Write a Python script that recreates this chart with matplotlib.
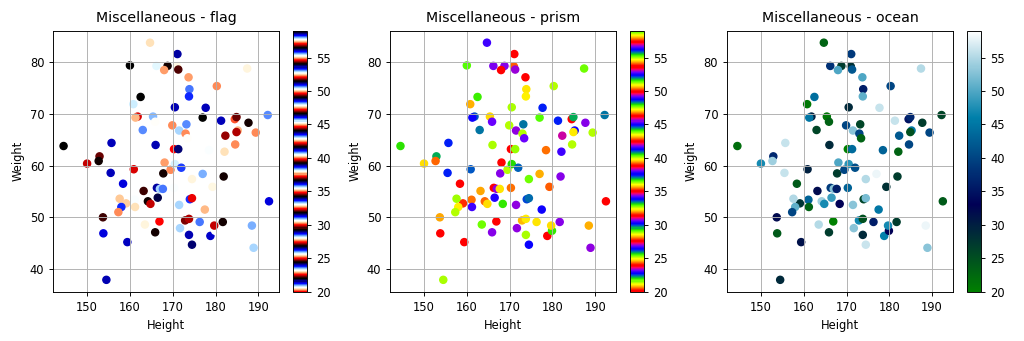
'''
Height / weight scatter coloured by age, shown with three misc colormaps.
'''

import matplotlib
matplotlib.use("Agg")
import matplotlib.pyplot as plt
from matplotlib.ticker import MultipleLocator

# data
height = [164.7, 171.1, 160.0, 166.2, 168.8, 168.0, 171.0, 171.3, 187.4, 173.7,
          173.9, 173.8, 180.3, 162.5, 160.8, 170.5, 177.7, 161.8, 161.3, 165.4,
          165.9, 169.9, 173.2, 177.0, 181.3, 184.5, 184.9, 185.2, 184.9, 187.7,
          189.4, 192.2, 192.5, 163.0, 171.5, 173.0, 173.4, 166.0, 170.3, 171.3,
          155.7, 152.9, 152.7, 150.0, 144.5, 155.5, 160.9, 168.1, 167.8, 169.5,
          170.5, 172.0, 177.0, 178.5, 182.3, 182.1, 184.6, 181.9, 179.3, 174.5,
          166.3, 167.0, 167.7, 163.2, 170.3, 159.1, 158.4, 157.6, 158.0, 157.3,
          161.1, 161.2, 164.2, 164.8, 166.5, 168.4, 171.5, 174.0, 174.5, 177.5,
          153.7, 153.8, 154.5, 159.4, 163.5, 165.9, 166.9, 172.9, 173.8, 173.8,
          171.7, 174.5, 176.3, 178.8, 179.9, 179.7, 181.7, 188.5, 188.9]
weight = [83.8, 81.6, 79.4, 79.3, 79.3, 78.5, 79.2, 78.6, 78.8, 77.1,
          74.8, 73.4, 75.4, 73.3, 71.9, 71.3, 71.2, 69.5, 69.3, 69.5,
          68.5, 67.8, 68.0, 69.3, 68.7, 69.0, 69.4, 66.8, 66.5, 68.3,
          66.4, 69.8, 53.1, 66.9, 66.8, 66.2, 65.3, 64.0, 63.2, 63.2,
          64.4, 61.8, 60.9, 60.4, 63.8, 58.6, 59.3, 60.6, 58.5, 59.2,
          60.3, 59.6, 58.4, 63.0, 65.8, 62.7, 64.1, 57.9, 55.9, 57.4,
          55.7, 55.5, 55.5, 55.1, 55.7, 52.7, 56.5, 53.6, 52.0, 51.0,
          53.4, 52.0, 53.1, 52.6, 53.8, 52.6, 52.4, 53.5, 53.7, 51.5,
          50.0, 46.9, 37.9, 45.2, 48.6, 47.1, 49.2, 49.4, 49.7, 46.6,
          47.9, 44.7, 49.1, 46.4, 47.4, 48.4, 49.1, 48.4, 44.1]
age = [22.98, 38.8, 58.85, 38.05, 26.9, 49.9, 28.0, 41.9, 55.05, 49.9,
       35.95, 50.85, 40.06, 44.1, 20.9, 28.93, 56.1, 29.9, 45.05, 20.93,
       23.05, 40.06, 25.97, 59.0, 56.1, 35.0, 37.05, 45.05, 24.8, 26.9,
       40.06, 25.97, 23.85, 25.97, 53.0, 40.06, 23.05, 28.93, 20.0, 43.9,
       56.1, 37.05, 54.07, 47.05, 21.92, 56.1, 29.9, 49.9, 26.9, 40.06,
       47.95, 41.0, 58.06, 42.95, 42.05, 23.0, 40.06, 26.9, 28.0, 55.05,
       38.8, 53.0, 35.95, 32.0, 42.95, 27.9, 23.85, 55.0, 50.85, 40.06,
       42.95, 23.0, 54.07, 47.05, 48.9, 33.0, 53.0, 26.1, 52.1, 45.05,
       32.0, 23.85, 28.93, 31.3, 55.05, 26.9, 20.0, 46.9, 24.8, 28.93,
       53.0, 56.2, 35.95, 46.06, 33.0, 47.0, 26.9, 58.06, 53.0]

cmaps = ['flag', 'prism', 'ocean']

# the reference looks like a default figure drawn at ~83 dpi
plt.rcParams['font.size'] = 8.3
plt.rcParams['axes.titlesize'] = 10.2
plt.rcParams['axes.linewidth'] = 0.67
plt.rcParams['grid.linewidth'] = 0.67
plt.rcParams['xtick.major.width'] = 0.67
plt.rcParams['ytick.major.width'] = 0.67
plt.rcParams['xtick.major.size'] = 2.9
plt.rcParams['ytick.major.size'] = 2.9

fig = plt.figure(figsize=(10.24, 3.41), dpi=100)

for i, cm in enumerate(cmaps):
    left = (53.3 + i * 336.9) / 1024
    ax = fig.add_axes([left, 0.1446, 226 / 1024, 0.765])
    sc = ax.scatter(height, weight, c=age, cmap=cm, s=26)
    ax.set_title('Miscellaneous - ' + cm)
    ax.set_xlabel('Height')
    ax.set_ylabel('Weight')
    ax.xaxis.set_major_locator(MultipleLocator(10))
    ax.grid(True)
    cax = fig.add_axes([left + 240 / 1024, 0.1446, 14 / 1024, 0.765])
    fig.colorbar(sc, cax=cax)

plt.savefig('out.png')
